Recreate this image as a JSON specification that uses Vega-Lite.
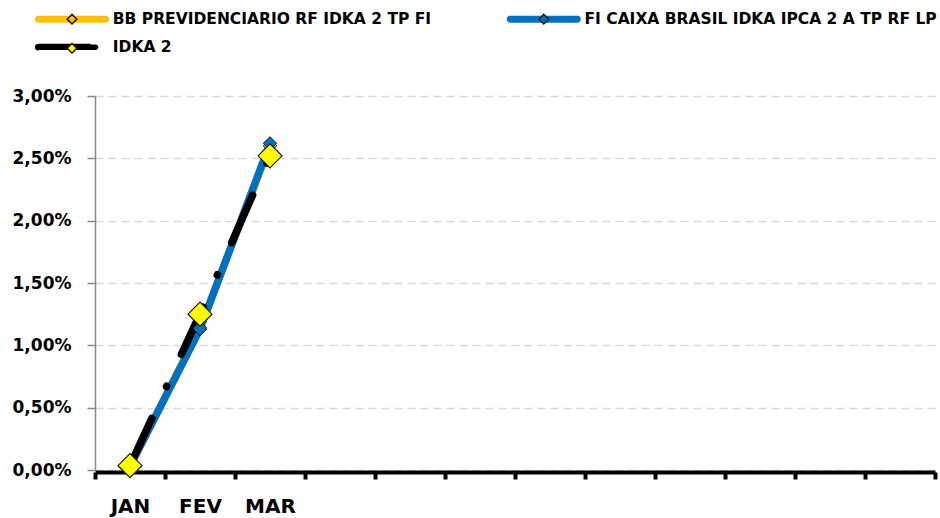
{
  "$schema": "https://vega.github.io/schema/vega-lite/v6.json",
  "width": 840,
  "height": 374,
  "autosize": {"type": "none"},
  "padding": {"left": 95, "top": 96, "right": 5, "bottom": 48},
  "background": "white",
  "config": {"view": {"stroke": null}},
  "data": {
    "values": [
      {"mes": "JAN", "serie": "BB PREVIDENCIARIO RF IDKA 2 TP FI", "valor": 0.0003},
      {"mes": "FEV", "serie": "BB PREVIDENCIARIO RF IDKA 2 TP FI", "valor": 0.0114},
      {"mes": "MAR", "serie": "BB PREVIDENCIARIO RF IDKA 2 TP FI", "valor": 0.026},
      {"mes": "JAN", "serie": "FI CAIXA BRASIL IDKA IPCA 2 A TP RF LP", "valor": 0.0003},
      {"mes": "FEV", "serie": "FI CAIXA BRASIL IDKA IPCA 2 A TP RF LP", "valor": 0.0113},
      {"mes": "MAR", "serie": "FI CAIXA BRASIL IDKA IPCA 2 A TP RF LP", "valor": 0.0262},
      {"mes": "JAN", "serie": "IDKA 2", "valor": 0.00035},
      {"mes": "FEV", "serie": "IDKA 2", "valor": 0.0125},
      {"mes": "MAR", "serie": "IDKA 2", "valor": 0.0252}
    ]
  },
  "encoding": {
    "x": {
      "field": "mes",
      "type": "ordinal",
      "scale": {
        "type": "band",
        "domain": ["JAN", "FEV", "MAR", "ABR", "MAI", "JUN", "JUL", "AGO", "SET", "OUT", "NOV", "DEZ"],
        "paddingInner": 0,
        "paddingOuter": 0
      },
      "axis": {
        "title": null,
        "labelExpr": "indexof(['JAN','FEV','MAR'], datum.value) >= 0 ? datum.value : ''",
        "labelFont": "DejaVu Sans",
        "labelFontWeight": "bold",
        "labelFontSize": 20,
        "labelColor": "black",
        "labelAngle": 0,
        "labelPadding": 17,
        "tickSize": 7,
        "tickWidth": 4,
        "tickColor": "black",
        "domainColor": "black",
        "domainWidth": 4,
        "tickBand": "extent",
        "offset": 2,
        "grid": false
      }
    },
    "y": {
      "field": "valor",
      "type": "quantitative",
      "scale": {"domain": [0, 0.03], "nice": false, "zero": true},
      "axis": {
        "title": null,
        "values": [0, 0.005, 0.01, 0.015, 0.02, 0.025, 0.03],
        "labelExpr": "replace(format(datum.value, '.2%'), '.', ',')",
        "labelFont": "DejaVu Sans",
        "labelFontWeight": "bold",
        "labelFontSize": 17,
        "labelColor": "black",
        "labelPadding": 16,
        "tickSize": 8,
        "tickWidth": 1.5,
        "tickColor": "#888888",
        "domainColor": "#888888",
        "domainWidth": 1.5,
        "grid": true,
        "gridColor": "#D9D9D9",
        "gridDash": [8, 5],
        "gridWidth": 1.5
      }
    }
  },
  "layer": [
    {
      "mark": {"type": "line", "strokeWidth": 7.5, "strokeCap": "round", "strokeJoin": "round"},
      "encoding": {
        "color": {
          "field": "serie",
          "type": "nominal",
          "scale": {
            "domain": ["BB PREVIDENCIARIO RF IDKA 2 TP FI", "FI CAIXA BRASIL IDKA IPCA 2 A TP RF LP", "IDKA 2"],
            "range": ["#FFC000", "#0070C0", "#000000"]
          },
          "legend": {
            "title": null,
            "orient": "none",
            "legendX": -30.75,
            "legendY": -85,
            "direction": "horizontal",
            "columns": 2,
            "columnPadding": 72.75,
            "rowPadding": 11.5,
            "padding": 0,
            "symbolType": "M-6.7,-0.55L6.7,-0.55A0.55,0.55,0,0,1,6.7,0.55L-6.7,0.55A0.55,0.55,0,0,1,-6.7,-0.55Z",
            "symbolSize": 100,
            "symbolStrokeWidth": 1.5,
            "labelOffset": 33,
            "labelFont": "DejaVu Sans",
            "labelFontWeight": "bold",
            "labelFontSize": 15.5,
            "labelColor": "black",
            "labelLimit": 600,
            "zindex": 1,
            "encode": {
              "symbols": {
                "update": {
                  "fill": {"scale": "color", "field": "value"},
                  "fillOpacity": {"value": 1},
                  "shape": {"signal": "datum.value == 'IDKA 2' ? 'M-6.7,-0.55L4.7,-0.55A0.55,0.55,0,0,1,4.7,0.55L-6.7,0.55A0.55,0.55,0,0,1,-6.7,-0.55Z' : 'M-6.7,-0.55L6.7,-0.55A0.55,0.55,0,0,1,6.7,0.55L-6.7,0.55A0.55,0.55,0,0,1,-6.7,-0.55Z'"}
                }
              }
            }
          }
        },
        "strokeDash": {
          "field": "serie",
          "type": "nominal",
          "scale": {
            "domain": ["BB PREVIDENCIARIO RF IDKA 2 TP FI", "FI CAIXA BRASIL IDKA IPCA 2 A TP RF LP", "IDKA 2"],
            "range": [[1, 0], [1, 0], [52, 35, 0.5, 35]]
          },
          "legend": null
        }
      }
    },
    {
      "transform": [{"filter": "datum.serie != 'IDKA 2'"}],
      "mark": {"type": "point", "shape": "diamond", "filled": true, "opacity": 1, "size": 180, "stroke": "#1a1a1a", "strokeWidth": 1},
      "encoding": {
        "fill": {
          "field": "serie",
          "type": "nominal",
          "scale": {"range": ["#FFC000", "#0070C0", "#FFFF00"]},
          "legend": {
            "title": null,
            "orient": "none",
            "legendX": -30.75,
            "legendY": -85,
            "direction": "horizontal",
            "columns": 2,
            "columnPadding": 72.75,
            "rowPadding": 11.5,
            "padding": 0,
            "symbolType": "M-7.25,0L-7.25,0M7.25,0L7.25,0M0,-0.96L0.96,0L0,0.96L-0.96,0Z",
            "symbolSize": 100,
            "symbolStrokeColor": "#1a1a1a",
            "symbolStrokeWidth": 1.5,
            "labelOffset": 33,
            "labelFont": "DejaVu Sans",
            "labelFontWeight": "bold",
            "labelFontSize": 15.5,
            "labelColor": "black",
            "labelOpacity": 0,
            "labelLimit": 600,
            "zindex": 2
          }
        }
      }
    },
    {
      "transform": [{"filter": "datum.serie == 'IDKA 2'"}],
      "mark": {"type": "point", "shape": "diamond", "filled": true, "opacity": 1, "size": 576, "stroke": "#1a1a1a", "strokeWidth": 1.2},
      "encoding": {
        "fill": {
          "field": "serie",
          "type": "nominal",
          "scale": {"range": ["#FFC000", "#0070C0", "#FFFF00"]}
        }
      }
    }
  ]
}
